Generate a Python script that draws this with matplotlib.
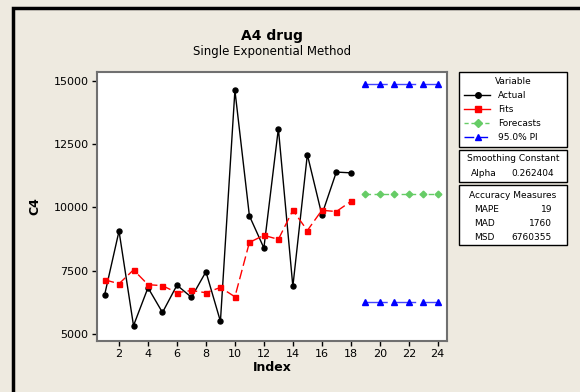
import matplotlib
matplotlib.use("Agg")
import matplotlib.pyplot as plt
from matplotlib.patches import Rectangle
from matplotlib.lines import Line2D

plt.rcParams['font.family'] = ['DejaVu Sans']

index_actual = list(range(1, 19))
actual = [6530, 9070, 5330, 6830, 5850, 6930, 6450, 7460, 5500, 14630,
          9670, 8400, 13120, 6880, 12090, 9710, 11400, 11370]
fits = [7145, 6985, 7535, 6950, 6910, 6630, 6720, 6630, 6840, 6470,
        8620, 8900, 8740, 9890, 9090, 9890, 9840, 10240]
index_fc = list(range(19, 25))
forecasts = [10520] * 6
pi_upper = [14870] * 6
pi_lower = [6260] * 6

title = "A4 drug"
subtitle = "Single Exponential Method"
xticks = list(range(2, 25, 2))
yticks = [5000, 7500, 10000, 12500, 15000]
alpha_txt = "0.262404"
acc_names = ["MAPE", "MAD", "MSD"]
acc_vals = ["19", "1760", "6760355"]

BG = '#EEEAE0'
W, H = 580, 392
fig = plt.figure(figsize=(5.8, 3.92), dpi=100, facecolor=BG)

# outer black frame (cropped on right/bottom)
fig.patches.append(Rectangle((13 / W, -0.05), 1.2, 1 - 8 / H + 0.05, transform=fig.transFigure,
                             fill=False, edgecolor='black', linewidth=2.5, zorder=0))

ax = fig.add_axes([97 / W, 1 - 341 / H, 350 / W, 269 / H])
ax.set_facecolor('white')

ax.plot(index_actual, actual, color='black', lw=1.0, marker='o', ms=3.6, zorder=3)
ax.plot(index_actual, fits, color='#FF0000', lw=1.0, marker='s', ms=3.6,
        linestyle=(0, (7, 3)), zorder=4)
ax.plot(index_fc, forecasts, color='#66CC66', lw=1.0, marker='D', ms=3.4,
        linestyle=(0, (4, 2.5)), zorder=3)
for pi in (pi_upper, pi_lower):
    ax.plot(index_fc, pi, color='#4444FF', lw=1.0, marker='^', ms=4.5,
            markerfacecolor='#0000FF', markeredgecolor='#0000FF',
            linestyle=(0, (16, 4.5)), zorder=3)

ax.set_xlim(0.48, 24.64)
ax.set_ylim(4723, 15356)
ax.set_xticks(xticks)
ax.set_yticks(yticks)
ax.set_yticklabels([str(v) for v in yticks])
ax.tick_params(direction='out', length=3.5, width=1, labelsize=8, colors='black', pad=2.5)
for s in ax.spines.values():
    s.set_color('#707070')
    s.set_linewidth(1.5)

ax.set_xlabel("Index", fontsize=9, fontweight='bold', labelpad=1)
ax.set_ylabel("C4", fontsize=9, fontweight='bold', labelpad=9)

cx = 272 / W
fig.text(cx, 1 - 36 / H, title, ha='center', va='center', fontsize=10, fontweight='bold')
fig.text(cx, 1 - 51 / H, subtitle, ha='center', va='center', fontsize=8.5)

# legend boxes
def box(x0, y0, x1, y1):
    fig.patches.append(Rectangle((x0 / W, 1 - y1 / H), (x1 - x0) / W, (y1 - y0) / H,
                                 transform=fig.transFigure, facecolor='white',
                                 edgecolor='black', linewidth=1.0, zorder=1))

def txt(x, y, s, ha='left', size=6.5):
    fig.text(x / W, 1 - y / H, s, ha=ha, va='center', fontsize=size, zorder=2)

box(459, 72, 567, 147)
box(459, 150, 567, 182)
box(459, 185, 567, 245)

txt(513, 82, "Variable", ha='center')
entries = [("Actual", 'black', 'o', '-', 95),
           ("Fits", '#FF0000', 's', '-', 109),
           ("Forecasts", '#66CC66', 'D', (0, (3, 2)), 123),
           ("95.0% PI", '#0000FF', '^', (0, (7, 3)), 137)]
for name, c, m, ls, y in entries:
    yf = 1 - y / H
    fig.lines.append(Line2D([464 / W, 490 / W], [yf, yf], transform=fig.transFigure,
                            color=c, lw=1.0, linestyle=ls, zorder=2))
    fig.lines.append(Line2D([478 / W], [yf], transform=fig.transFigure, color=c,
                            marker=m, ms=4 if m != 'D' else 3.6, linestyle='none', zorder=3))
    txt(498, y, name)

txt(513, 159, "Smoothing Constant", ha='center')
txt(471, 173, "Alpha")
txt(554, 173, alpha_txt, ha='right')

txt(513, 196, "Accuracy Measures", ha='center')
for i, (n, v) in enumerate(zip(acc_names, acc_vals)):
    y = 210 + 14 * i
    txt(474, y, n)
    txt(552, y, v, ha='right')

fig.savefig("out.png", dpi=100, facecolor=BG)
